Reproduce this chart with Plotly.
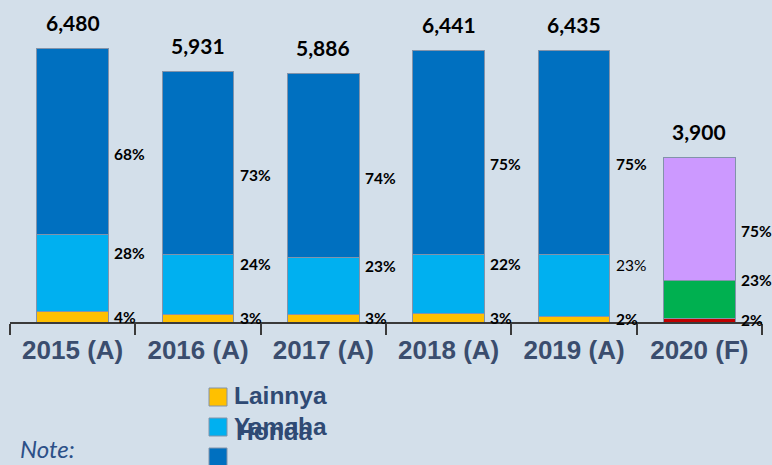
import plotly.graph_objects as go

# ---- data ----
categories = ["2015 (A)", "2016 (A)", "2017 (A)", "2018 (A)", "2019 (A)", "2020 (F)"]
totals = [6480, 5931, 5886, 6441, 6435, 3900]
series_names = ["Lainnya", "Yamaha", "Honda"]
pct_lainnya = [4, 3, 3, 3, 2, 2]
pct_yamaha = [28, 24, 23, 22, 23, 23]
pct_honda = [68, 73, 74, 75, 75, 75]

# ---- styling ----
BG = "#d3dfea"
BAR_W = 0.57
colors_normal = {"Lainnya": "#ffc000", "Yamaha": "#00b0f0", "Honda": "#0070c0"}
colors_forecast = {"Lainnya": "#c00000", "Yamaha": "#00b050", "Honda": "#cc99ff"}
label_shift = {"Lainnya": 0, "Yamaha": 20, "Honda": -12}
regular_labels = {("Yamaha", 4)}  # drawn in regular weight in the original

pcts = {"Lainnya": pct_lainnya, "Yamaha": pct_yamaha, "Honda": pct_honda}

fig = go.Figure()
base = [0.0] * len(categories)
annotations = []
for name in series_names:
    vals = [p * t / 100 for p, t in zip(pcts[name], totals)]
    cols = [colors_forecast[name] if c.endswith("(F)") else colors_normal[name] for c in categories]
    fig.add_trace(go.Bar(
        x=categories, y=vals, name=name, width=BAR_W,
        marker=dict(color=cols, line=dict(color="#8293aa", width=1)),
        showlegend=False, hoverinfo="skip",
    ))
    for i, (b, v, p) in enumerate(zip(base, vals, pcts[name])):
        annotations.append(dict(
            x=i + BAR_W / 2, y=b + v / 2, xref="x", yref="y",
            text=f"{p}%", showarrow=False, xanchor="left", yanchor="middle",
            xshift=4, yshift=label_shift[name],
            font=dict(family="Lato", size=15.5, color="#000000",
                      weight="normal" if (name, i) in regular_labels else "bold"),
        ))
    base = [b + v for b, v in zip(base, vals)]

# total labels
for i, t in enumerate(totals):
    annotations.append(dict(
        x=i, y=t, xref="x", yref="y", text=f"{t:,}", showarrow=False,
        xanchor="center", yanchor="middle", yshift=26,
        font=dict(family="Lato", size=21, color="#000000", weight="bold"),
    ))

# manual legend (reproduces the original's layout)
W, H = 772, 465
ML, MR, MT, MB = 10, 10, 0, 143
PW, PH = W - ML - MR, H - MT - MB


def px_to_paper(px, py):
    return (px - ML) / PW, (MT + PH - py) / PH


shapes = []
sq_x0, sq_size, row0, row_gap = 209, 18, 388, 30
text_rows = [396, 426, 432]
for k, name in enumerate(series_names):
    y0 = row0 + k * row_gap
    x0p, y0p = px_to_paper(sq_x0, y0)
    x1p, y1p = px_to_paper(sq_x0 + sq_size, y0 + sq_size)
    shapes.append(dict(type="rect", xref="paper", yref="paper",
                       x0=x0p, x1=x1p, y0=y1p, y1=y0p,
                       fillcolor=colors_normal[name],
                       line=dict(color="#8293aa", width=1)))
    tx, ty = px_to_paper(232 + (2 if k == 2 else 0), text_rows[k])
    annotations.append(dict(
        x=tx, y=ty, xref="paper", yref="paper", text=name, showarrow=False,
        xanchor="left", yanchor="middle",
        font=dict(family="Liberation Sans", size=24.5, color="#2f4a74", weight="bold"),
    ))

nx, ny = px_to_paper(18, 448)
annotations.append(dict(
    x=nx, y=ny, xref="paper", yref="paper", text="<i>Note:</i>", showarrow=False,
    xanchor="left", yanchor="middle",
    font=dict(family="Lato", size=24, color="#2c5088"),
))

fig.update_layout(
    width=W, height=H, barmode="stack",
    margin=dict(l=ML, r=MR, t=MT, b=MB),
    paper_bgcolor=BG, plot_bgcolor=BG,
    annotations=annotations, shapes=shapes,
    xaxis=dict(
        type="category", range=[-0.5, len(categories) - 0.5],
        showline=True, linecolor="#3a3a3a", linewidth=2,
        ticks="outside", tickson="boundaries", ticklen=11, tickwidth=2, tickcolor="#3a3a3a",
        ticklabelstandoff=4,
        tickfont=dict(family="Liberation Sans", size=26, color="#3a4d6e", weight="bold"),
        showgrid=False, zeroline=False, fixedrange=True,
    ),
    yaxis=dict(range=[0, 7630], visible=False, showgrid=False, zeroline=False, fixedrange=True),
)

fig.write_html(
    "out.html",
    config={"displayModeBar": False, "staticPlot": True},
    post_script="document.body.style.margin='0';document.body.style.overflow='hidden';",
)
